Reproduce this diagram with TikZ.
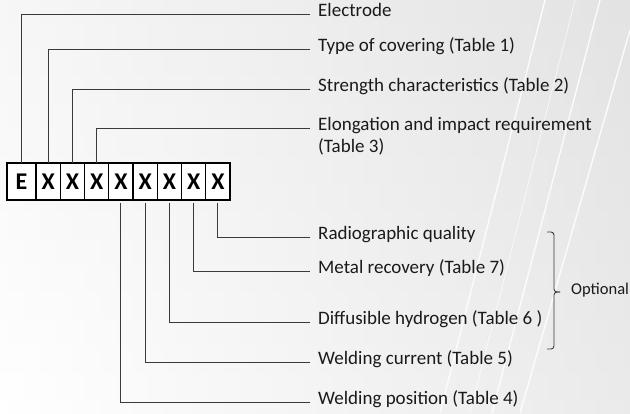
\documentclass[tikz,border=0pt]{standalone}
\usepackage{fontspec}
\setmainfont{Carlito}
\usepackage{xcolor}
\usetikzlibrary{positioning}
\definecolor{ink}{HTML}{1A1A1A}
\definecolor{wire}{HTML}{3A3A3A}
\tikzset{%
    cell/.style={%
        draw=black, line width=1.4pt, fill=white,
        minimum width=24.25pt, minimum height=37pt,
        inner sep=0pt, outer sep=0pt,
        font=\fontsize{24}{24}\selectfont\bfseries
    },
    lbl/.style={%
        anchor=mid west, inner sep=0pt, align=left, text=ink,
        font=\fontsize{19}{22}\selectfont
    },
    wire/.style={draw=wire, line width=0.9pt},
    streak/.style={draw=white, line width=1.4pt, opacity=0.85}
}

\begin{document}
\begin{tikzpicture}[x=1pt,y=-1pt]
  \useasboundingbox (0,0) rectangle (630,413);
  \shade[left color=white, right color=black!16] (0,0) rectangle (630,413);
  \shade[top color=black!6, bottom color=white, opacity=0.5] (0,0) rectangle (630,413);
  \draw[streak] (600,0) -- (492,413);
  \draw[streak] (630,30) -- (520,413);
  \draw[streak] (545,0) -- (440,413);
  \draw[streak, line width=0.6pt] (575,0) -- (470,413);

  \node[cell, minimum width=29pt] (x0) at (21.5,181.5) {E};
  \foreach \i [remember=\i as \p (initially 0)] in {1,...,8}
    \node[cell, right=0pt of x\p] (x\i) {X};

  \node[lbl] (l0) at (318,14) {Electrode};
  \node[lbl] (l1) at (318,49) {Type of covering (Table 1)};
  \node[lbl] (l2) at (318,89) {Strength characteristics (Table 2)};
  \node[lbl] (l3) at (318,150) {Elongation and impact requirement\\(Table 3)};
  \node[lbl] (l8) at (318,237) {Radiographic quality};
  \node[lbl] (l7) at (318,271) {Metal recovery (Table 7)};
  \node[lbl] (l6) at (318,322) {Diffusible hydrogen (Table 6 )};
  \node[lbl] (l5) at (318,362) {Welding current (Table 5)};
  \node[lbl] (l4) at (318,402) {Welding position (Table 4)};

  \foreach \i in {0,...,2}
    \draw[wire] (x\i.north) |- ([xshift=-8pt]l\i.mid west);
  \draw[wire] (x3.north) |- ([xshift=-8pt,yshift=22pt]l3.mid west);
  \foreach \i in {4,...,8}
    \draw[wire] ([yshift=-3pt]x\i.south) |- ([xshift=-8pt]l\i.mid west);

  \draw[wire, rounded corners=3pt] (547,232) -| (554,292) -- (560,292);
  \draw[wire, rounded corners=3pt] (547,349) -| (554,292) -- (560,292);
  \node[lbl, font=\fontsize{16.5}{20}\selectfont] (opt) at (571,292) {Optional};
\end{tikzpicture}
\end{document}
